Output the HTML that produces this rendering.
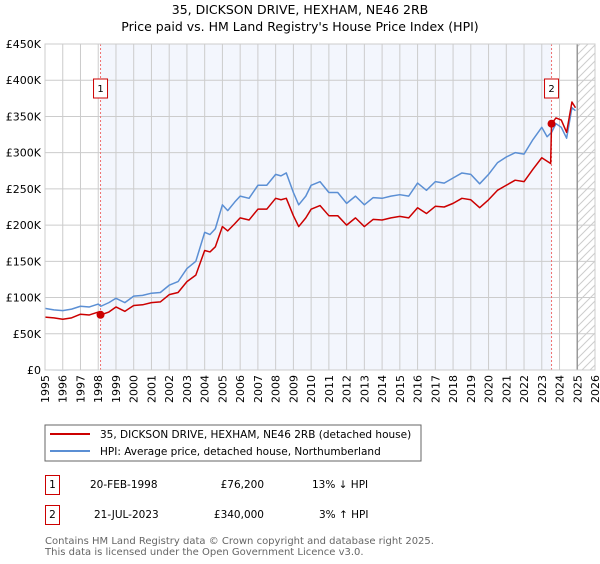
<!DOCTYPE html>
<html><head><meta charset="utf-8"><style>
body{margin:0;background:#fff;font-family:"DejaVu Sans","Liberation Sans",sans-serif;}
svg text{font-family:"DejaVu Sans","Liberation Sans",sans-serif;}
</style></head><body>
<svg id="chart" width="600" height="560" xmlns="http://www.w3.org/2000/svg">
<text x="300" y="14" text-anchor="middle" font-size="12.5" fill="#000">35, DICKSON DRIVE, HEXHAM, NE46 2RB</text>
<text x="300" y="31" text-anchor="middle" font-size="12.5" fill="#000">Price paid vs. HM Land Registry's House Price Index (HPI)</text>
<g id="plot"></g>
<g>
<rect x="45" y="425" width="376" height="36" fill="#fff" stroke="#666" stroke-width="1"/>
<line x1="50" y1="434" x2="90" y2="434" stroke="#cc0000" stroke-width="2"/>
<text x="100" y="438" font-size="10.5">35, DICKSON DRIVE, HEXHAM, NE46 2RB (detached house)</text>
<line x1="50" y1="451" x2="90" y2="451" stroke="#5b8fd4" stroke-width="2"/>
<text x="100" y="455" font-size="10.5">HPI: Average price, detached house, Northumberland</text>
</g>
<g font-size="10.5">
<rect x="45.5" y="475.5" width="14" height="19" fill="#fff" stroke="#cc0000"/>
<text x="52.5" y="488" text-anchor="middle">1</text>
<text x="90" y="488">20-FEB-1998</text>
<text x="264" y="488" text-anchor="end">£76,200</text>
<text x="312" y="488">13% ↓ HPI</text>
<rect x="45.5" y="505.5" width="14" height="19" fill="#fff" stroke="#cc0000"/>
<text x="52.5" y="518" text-anchor="middle">2</text>
<text x="94" y="518">21-JUL-2023</text>
<text x="264" y="518" text-anchor="end">£340,000</text>
<text x="319" y="518">3% ↑ HPI</text>
</g>
<text x="45" y="544" font-size="10" fill="#666">Contains HM Land Registry data © Crown copyright and database right 2025.</text>
<text x="45" y="555" font-size="10" fill="#666">This data is licensed under the Open Government Licence v3.0.</text>
</svg>
<script>
const yearTicks=[1995,1996,1997,1998,1999,2000,2001,2002,2003,2004,2005,2006,2007,2008,2009,2010,2011,2012,2013,2014,2015,2016,2017,2018,2019,2020,2021,2022,2023,2024,2025,2026];
const valueTicks=[0,50,100,150,200,250,300,350,400,450];
const valueTickLabels=["£0","£50K","£100K","£150K","£200K","£250K","£300K","£350K","£400K","£450K"];
const hpiDates=[1995,1995.5,1996,1996.5,1997,1997.5,1998,1998.15,1998.6,1999,1999.5,2000,2000.5,2001,2001.5,2002,2002.5,2003,2003.5,2004,2004.3,2004.6,2005,2005.3,2005.7,2006,2006.5,2007,2007.5,2008,2008.3,2008.6,2009,2009.3,2009.7,2010,2010.5,2011,2011.5,2012,2012.5,2013,2013.5,2014,2014.5,2015,2015.5,2016,2016.5,2017,2017.5,2018,2018.5,2019,2019.5,2020,2020.5,2021,2021.5,2022,2022.5,2023,2023.3,2023.55,2023.8,2024.1,2024.4,2024.7,2024.9];
const hpiValues=[85,83,82,84,88,87,91,88,93,99,93,102,103,106,107,117,122,140,150,190,187,195,228,220,232,240,237,255,255,270,268,272,245,228,240,255,260,245,245,230,240,228,238,237,240,242,240,258,248,260,258,265,272,270,257,270,286,294,300,298,318,335,322,328,340,335,320,362,358];
const priceDates=[1995,1995.5,1996,1996.5,1997,1997.5,1998,1998.15,1998.6,1999,1999.5,2000,2000.5,2001,2001.5,2002,2002.5,2003,2003.5,2004,2004.3,2004.6,2005,2005.3,2005.7,2006,2006.5,2007,2007.5,2008,2008.3,2008.6,2009,2009.3,2009.7,2010,2010.5,2011,2011.5,2012,2012.5,2013,2013.5,2014,2014.5,2015,2015.5,2016,2016.5,2017,2017.5,2018,2018.5,2019,2019.5,2020,2020.5,2021,2021.5,2022,2022.5,2023,2023.5,2023.55,2023.8,2024.1,2024.4,2024.7,2024.9];
const priceValues=[73,72,70,72,77,76,80,76.2,80,87,81,89,90,93,94,104,107,122,131,165,163,170,198,192,202,210,207,222,222,237,235,237,213,198,210,222,227,213,213,200,210,198,208,207,210,212,210,224,216,226,225,230,237,235,224,235,248,255,262,260,277,293,285,340,348,345,328,370,362];
const sales=[[1998.13,76.2,"1"],[2023.55,340,"2"]];
const X0=45,X1=595,Y0=370,Y1=44;
const x=y=>X0+(y-1995)*(X1-X0)/31;
const yv=v=>Y0-v*(Y0-Y1)/450;
const NS="http://www.w3.org/2000/svg";
const plot=document.getElementById('plot');
function mk(t,a,p){const e=document.createElementNS(NS,t);for(const k in a)e.setAttribute(k,a[k]);(p||plot).appendChild(e);return e;}
let e=mk('rect',{x:x(1998.13),y:Y1,width:x(2023.55)-x(1998.13),height:Y0-Y1,fill:'#f3f6fd'});


const defs=mk('defs',{});
const pat=mk('pattern',{id:'hatch',width:8,height:8,patternUnits:'userSpaceOnUse'},defs);
mk('path',{d:'M0,8 L8,0 M-2,2 L2,-2 M6,10 L10,6',stroke:'#ccc','stroke-width':1},pat);
e=mk('rect',{x:x(2025),y:Y1,width:X1-x(2025),height:Y0-Y1,fill:'url(#hatch)'});


valueTicks.forEach((v,i)=>{
 const g=mk('line',{x1:X0,x2:X1,y1:yv(v),y2:yv(v),stroke:'#ccc','stroke-width':1});
 
 
 const t=mk('text',{x:X0-4,y:yv(v)+4,'text-anchor':'end','font-size':11});
 t.textContent=valueTickLabels[i];
 
 
});
yearTicks.forEach(yr=>{
 const g=mk('line',{x1:x(yr),x2:x(yr),y1:Y1,y2:Y0,stroke:'#ccc','stroke-width':1});
 
 
 const t=mk('text',{x:0,y:0,'text-anchor':'end','font-size':11,transform:`translate(${x(yr)+4},${Y0+5}) rotate(-90)`});
 t.textContent=yr;
 
 
});
e=mk('line',{x1:x(2025),x2:x(2025),y1:Y1,y2:Y0,stroke:'#999','stroke-width':1.5});


sales.forEach(s=>{
 const l=mk('line',{x1:x(s[0]),x2:x(s[0]),y1:Y1,y2:Y0,stroke:'#f07070','stroke-width':1,'stroke-dasharray':'2,2'});
 
 
});
function line(d,v,c,n){
 const p=mk('polyline',{points:d.map((t,i)=>x(t)+','+yv(v[i])).join(' '),fill:'none',stroke:c,'stroke-width':1.5,'stroke-linejoin':'round'});
 
 
}
line(hpiDates,hpiValues,'#5b8fd4','hpi-line');
line(priceDates,priceValues,'#cc0000','price-line');
sales.forEach(s=>{
 const c=mk('circle',{cx:x(s[0]),cy:yv(s[1]),r:4,fill:'#cc0000'});
 
 
 const bx=x(s[0])-7;
 const r=mk('rect',{x:bx,y:79,width:14,height:19,fill:'#fff',stroke:'#cc0000'});
 
 
 const t=mk('text',{x:x(s[0]),y:92,'text-anchor':'middle','font-size':10});
 t.textContent=s[2];
 
 
});
e=mk('rect',{x:X0,y:Y1,width:X1-X0,height:Y0-Y1,fill:'none',stroke:'#ccc'});


</script>
</body></html>
